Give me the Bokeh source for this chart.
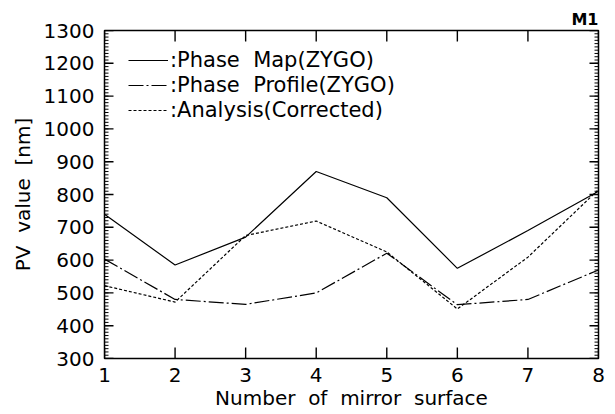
import numpy as np
from bokeh.plotting import figure
from bokeh.models import (LinearAxis, SingleIntervalTicker, FixedTicker, Range1d,
                          Legend, LegendItem, Title)
from bokeh.embed import file_html
from bokeh.resources import INLINE

# PV values measured on each mirror surface
surfaces = [1, 2, 3, 4, 5, 6, 7, 8]
phase_map = [740, 585, 670, 870, 790, 575, 690, 810]
phase_profile = [603, 480, 465, 500, 621, 464, 480, 570]
analysis = [522, 472, 675, 719, 625, 451, 609, 815]

x_ticks = [1, 2, 3, 4, 5, 6, 7, 8]
y_min, y_max, y_step, y_minor = 300, 1300, 100, 10

FONT = "DejaVu Sans"
NB = "\u00a0"
SP = NB + " "   # wide word gap

W, H = 615, 414
BL, BR, BT, BB = 104, 17, 30, 56
x_lo, x_hi = float(min(x_ticks)), float(max(x_ticks))

p = figure(width=W, height=H, output_backend="svg", toolbar_location=None,
           x_range=Range1d(x_lo, x_hi), y_range=Range1d(y_min, y_max),
           x_axis_type=None, y_axis_type=None,
           min_border_left=BL, min_border_right=BR,
           min_border_top=BT, min_border_bottom=BB)
p.background_fill_color = "white"
p.border_fill_color = "white"
p.grid.visible = False
p.outline_line_color = "black"
p.outline_line_width = 1.5


def style_axis(ax):
    ax.axis_line_color = None
    ax.major_tick_in = 0
    ax.major_tick_out = 0
    ax.minor_tick_in = 0
    ax.minor_tick_out = 0
    ax.major_tick_line_color = None
    ax.minor_tick_line_color = None
    ax.major_label_text_font = FONT
    ax.major_label_text_font_size = "20px"
    ax.major_label_text_color = "black"
    ax.axis_label_text_font = FONT
    ax.axis_label_text_font_style = "normal"
    ax.axis_label_text_font_size = "20px"
    ax.axis_label_text_color = "black"


left = LinearAxis(ticker=SingleIntervalTicker(interval=y_step),
                  axis_label=f"PV{SP}value{SP}[nm]")
style_axis(left)
left.major_label_standoff = 10
left.axis_label_standoff = 6
p.add_layout(left, "left")

bottom = LinearAxis(ticker=FixedTicker(ticks=x_ticks),
                    axis_label=f"Number{SP}of{SP}mirror{SP}surface")
style_axis(bottom)
bottom.major_label_standoff = 9
bottom.axis_label_standoff = 1
p.add_layout(bottom, "below")

p.add_layout(Title(text="M1", align="right", text_font=FONT,
                   text_font_size="16px", text_font_style="bold",
                   text_color="black", offset=0, standoff=4), "above")

# inward tick marks on all four sides of the frame
dx = (x_hi - x_lo) / (W - BL - BR)      # data units per pixel, x
dy = (y_max - y_min) / (H - BT - BB)    # data units per pixel, y
y_major = [float(v) for v in np.arange(y_min, y_max + 1, y_step)]
y_minor_t = [float(v) for v in np.arange(y_min, y_max + 1, y_minor)]

tick_x0, tick_y0, tick_x1, tick_y1, tick_w = [], [], [], [], []
for ys, ln, lw in ((y_minor_t, 4, 1.0), (y_major, 9, 1.4)):
    for y in ys:
        tick_x0 += [x_lo, x_hi]
        tick_x1 += [x_lo + ln * dx, x_hi - ln * dx]
        tick_y0 += [y, y]
        tick_y1 += [y, y]
        tick_w += [lw, lw]
for x in x_ticks:
    tick_x0 += [float(x), float(x)]
    tick_x1 += [float(x), float(x)]
    tick_y0 += [float(y_min), float(y_max)]
    tick_y1 += [y_min + 11 * dy, y_max - 11 * dy]
    tick_w += [1.4, 1.4]

p.segment(x0=tick_x0, y0=tick_y0, x1=tick_x1, y1=tick_y1,
          line_color="black", line_width=tick_w)

r_map = p.line(surfaces, phase_map, line_color="black", line_width=1.2)
r_prof = p.line(surfaces, phase_profile, line_color="black", line_width=1.2,
                line_dash="15 3 2 3")
r_ana = p.line(surfaces, analysis, line_color="black", line_width=1.2,
               line_dash="3 2")

legend = Legend(items=[
    LegendItem(label=f":Phase{SP}Map(ZYGO)", renderers=[r_map]),
    LegendItem(label=f":Phase{SP}Profile(ZYGO)", renderers=[r_prof]),
    LegendItem(label=":Analysis(Corrected)", renderers=[r_ana]),
], location=(24, 236))
legend.border_line_alpha = 0
legend.background_fill_alpha = 0
legend.padding = 0
legend.margin = 0
legend.spacing = 1
legend.glyph_width = 40
legend.glyph_height = 20
legend.label_height = 20
legend.label_standoff = 2
legend.label_text_font = FONT
legend.label_text_font_size = "21px"
legend.label_text_color = "black"
p.add_layout(legend, "center")

open("out.html", "w").write(file_html(p, INLINE))
